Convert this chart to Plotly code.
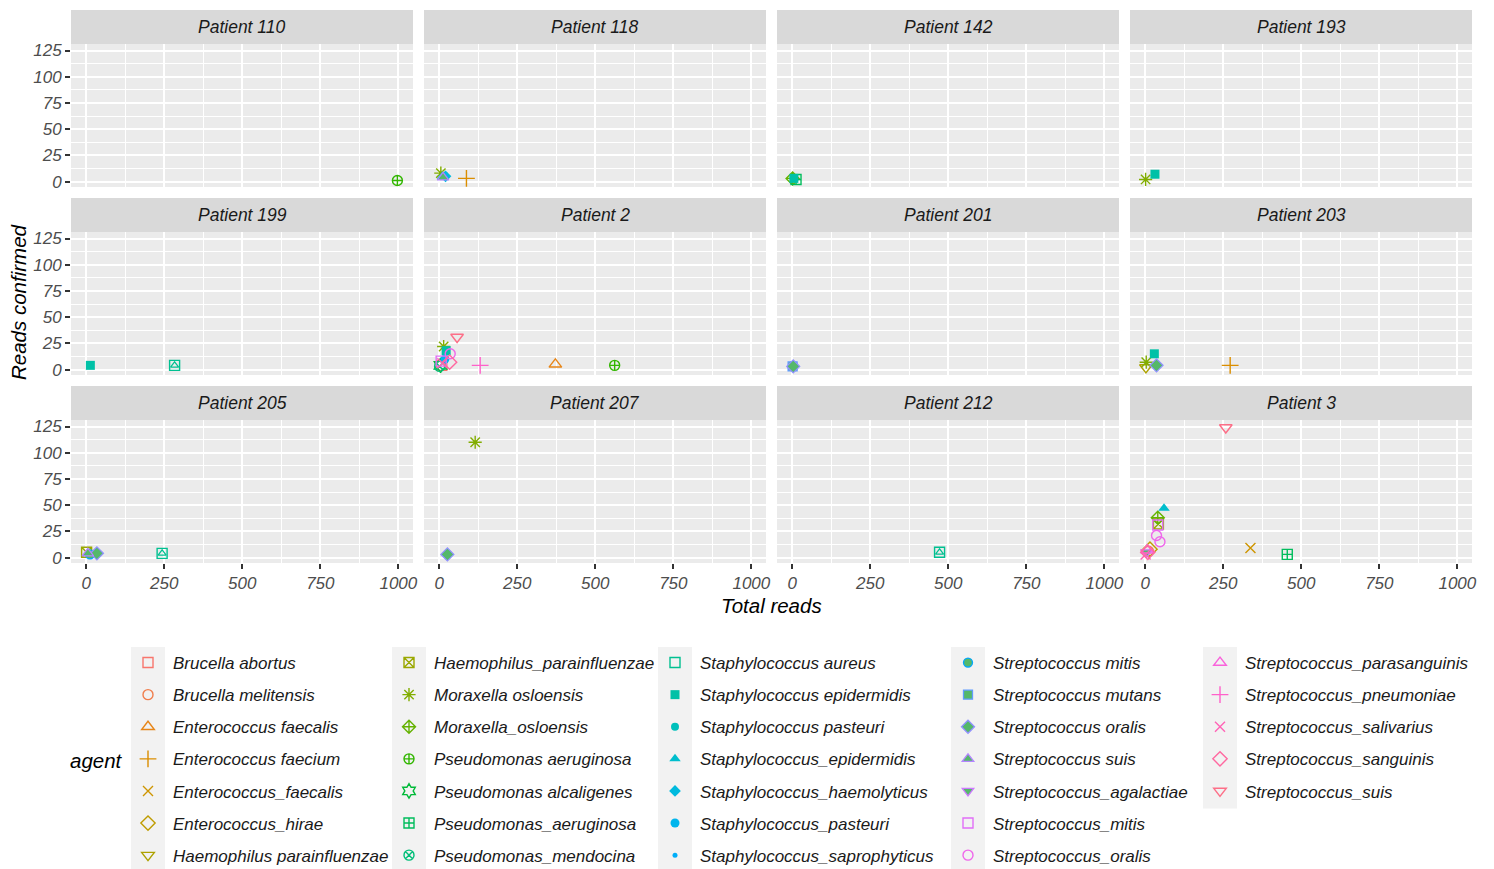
import math
import plotly.graph_objects as go

# ---------------- data ----------------
patients = ["Patient 110", "Patient 118", "Patient 142", "Patient 193",
            "Patient 199", "Patient 2", "Patient 201", "Patient 203",
            "Patient 205", "Patient 207", "Patient 212", "Patient 3"]

agents = ["Brucella abortus", "Brucella melitensis", "Enterococcus faecalis",
          "Enterococcus faecium", "Enterococcus_faecalis", "Enterococcus_hirae",
          "Haemophilus parainfluenzae", "Haemophilus_parainfluenzae",
          "Moraxella osloensis", "Moraxella_osloensis", "Pseudomonas aeruginosa",
          "Pseudomonas alcaligenes", "Pseudomonas_aeruginosa", "Pseudomonas_mendocina",
          "Staphylococcus aureus", "Staphylococcus epidermidis", "Staphylococcus pasteuri",
          "Staphylococcus_epidermidis", "Staphylococcus_haemolyticus",
          "Staphylococcus_pasteuri", "Staphylococcus_saprophyticus",
          "Streptococcus mitis", "Streptococcus mutans", "Streptococcus oralis",
          "Streptococcus suis", "Streptococcus_agalactiae", "Streptococcus_mitis",
          "Streptococcus_oralis", "Streptococcus_parasanguinis",
          "Streptococcus_pneumoniae", "Streptococcus_salivarius",
          "Streptococcus_sanguinis", "Streptococcus_suis"]

pt_patient = (["Patient 110"]
              + ["Patient 118"] * 5
              + ["Patient 142"] * 3
              + ["Patient 193"] * 2
              + ["Patient 199"] * 2
              + ["Patient 2"] * 14
              + ["Patient 201"] * 4
              + ["Patient 203"] * 5
              + ["Patient 205"] * 5
              + ["Patient 207"] * 2
              + ["Patient 212"]
              + ["Patient 3"] * 15)

pt_agent = [
    "Pseudomonas aeruginosa",
    "Moraxella osloensis", "Staphylococcus_epidermidis", "Streptococcus suis",
    "Staphylococcus_haemolyticus", "Enterococcus faecium",
    "Moraxella_osloensis", "Staphylococcus epidermidis", "Pseudomonas_aeruginosa",
    "Moraxella osloensis", "Staphylococcus epidermidis",
    "Staphylococcus epidermidis", "Staphylococcus aureus",
    "Pseudomonas_mendocina", "Pseudomonas alcaligenes", "Brucella abortus",
    "Streptococcus_mitis", "Streptococcus_salivarius", "Staphylococcus_pasteuri",
    "Moraxella osloensis", "Staphylococcus epidermidis", "Streptococcus_oralis",
    "Streptococcus_sanguinis", "Streptococcus_suis", "Streptococcus_pneumoniae",
    "Enterococcus faecalis", "Pseudomonas aeruginosa",
    "Streptococcus mutans", "Staphylococcus pasteuri", "Streptococcus oralis",
    "Staphylococcus_saprophyticus",
    "Haemophilus parainfluenzae", "Moraxella osloensis", "Staphylococcus epidermidis",
    "Streptococcus oralis", "Enterococcus faecium",
    "Haemophilus_parainfluenzae", "Streptococcus suis", "Streptococcus mitis",
    "Streptococcus oralis", "Staphylococcus aureus",
    "Moraxella osloensis", "Streptococcus oralis",
    "Staphylococcus aureus",
    "Streptococcus_salivarius", "Streptococcus_agalactiae", "Streptococcus_sanguinis",
    "Brucella melitensis", "Streptococcus_parasanguinis", "Enterococcus_hirae",
    "Streptococcus_oralis", "Streptococcus_oralis", "Streptococcus_mitis",
    "Haemophilus_parainfluenzae", "Moraxella_osloensis", "Staphylococcus_epidermidis",
    "Streptococcus_suis", "Enterococcus_faecalis", "Pseudomonas_aeruginosa"]

pt_total = [997,
            5, 10, 12, 20, 87,
            1, 5, 12,
            1, 31,
            13, 283,
            1, 4, 8, 6, 10, 18, 14, 22, 35, 33, 57, 131, 372, 562,
            1, 2, 3, 5,
            2, 3, 29, 36, 272,
            1, 5, 12, 34, 243,
            115, 26,
            472,
            1, 4, 8, 10, 6, 15, 36, 47, 40, 42, 40, 60, 258, 337, 455]

pt_confirmed = [1,
                8, 5, 4, 5, 3,
                3, 3, 2,
                2, 7,
                4, 4,
                3, 4, 4, 8, 6, 10, 22, 18, 15, 7, 31, 4, 5, 4,
                3, 4, 3, 2,
                2, 7, 15, 4, 4,
                5, 4, 3, 4, 4,
                110, 3,
                5,
                3, 5, 5, 6, 7, 8, 21, 15, 31, 32, 38, 47, 124, 9, 3]

x_ticks = [0, 250, 500, 750, 1000]
x_tick_labels = ["0", "250", "500", "750", "1000"]
y_ticks = [0, 25, 50, 75, 100, 125]
y_tick_labels = ["0", "25", "50", "75", "100", "125"]

# ---------------- style ----------------
FONT = "Liberation Sans, Arial, sans-serif"
OFF = 8                      # page body margin of the html page
W, H = 1494 - OFF, 869 - OFF
ML, MR, MT, MB = 71 - OFF, 22, 10 - OFF, 306
PW, PH = W - ML - MR, H - MT - MB  # 1401 x 553
PANEL_W, PANEL_H, STRIP_H = 342, 143, 34
COL_PITCH, ROW_PITCH = 353, 188
FILL_GREEN = "#55B86A"


def px_to_paper_x(px):      # px measured on the page
    return (px - OFF - ML) / PW


def py_to_paper_y(py):
    return (PH + MT - (py - OFF)) / PH


def hue_pal(n, c=100.0, l=65.0):
    WX, WY, WZ = 95.047, 100.0, 108.883
    un = 4 * WX / (WX + 15 * WY + 3 * WZ)
    vn = 9 * WY / (WX + 15 * WY + 3 * WZ)
    out = []
    for i in range(n):
        h = 15 + 360.0 * i / n
        hr = math.radians(h)
        U, V = c * math.cos(hr), c * math.sin(hr)
        Y = WY * (((l + 16) / 116) ** 3 if l > 7.999592 else l / 903.3)
        u = U / (13 * l) + un
        v = V / (13 * l) + vn
        X = 9 * Y * u / (4 * v)
        Z = -X / 3 - 5 * Y + 3 * Y / v
        r = (3.240479 * X - 1.537150 * Y - 0.498535 * Z) / WY
        g = (-0.969256 * X + 1.875992 * Y + 0.041556 * Z) / WY
        b = (0.055648 * X - 0.204043 * Y + 1.057311 * Z) / WY

        def gam(t):
            t = 1.055 * t ** (1 / 2.4) - 0.055 if t > 0.0031308 else 12.92 * t
            return min(max(t, 0.0), 1.0)
        out.append("#%02X%02X%02X" % tuple(int(round(gam(t) * 255)) for t in (r, g, b)))
    return out


colors = hue_pal(len(agents))

# R pch -> plotly symbol, size, kind
PCH = {0: ("square-open", 10, "open"), 1: ("circle-open", 10, "open"),
       2: ("triangle-up-open", 11, "open"), 3: ("cross-thin-open", 12, "open"),
       4: ("x-thin-open", 10, "open"), 5: ("diamond-open", 11, "open"),
       6: ("triangle-down-open", 11, "open"), 7: ("square-x-open", 10, "open"),
       8: ("asterisk-open", 11, "open"), 9: ("diamond-cross-open", 10, "open"),
       10: ("circle-cross-open", 10, "open"), 11: ("hexagram-open", 11, "open"),
       12: ("square-cross-open", 10, "open"), 13: ("circle-x-open", 10, "open"),
       14: ("square-open", 10, "open"), 15: ("square", 9, "solid"),
       16: ("circle", 8, "solid"), 17: ("triangle-up", 10, "solid"),
       18: ("diamond", 9, "solid"), 19: ("circle", 9, "solid"),
       20: ("circle", 5, "solid"), 21: ("circle", 9, "filled"),
       22: ("square", 9, "filled"), 23: ("diamond", 10, "filled"),
       24: ("triangle-up", 10, "filled"), 25: ("triangle-down", 10, "filled")}


def marker_for(ai):
    sym, size, kind = PCH[ai % 26]
    col = colors[ai]
    if kind == "open":
        return dict(symbol=sym, size=size, color=col, line=dict(color=col, width=1.4))
    if kind == "solid":
        return dict(symbol=sym, size=size, color=col, line=dict(width=0))
    return dict(symbol=sym, size=size, color=FILL_GREEN, line=dict(color=col, width=1.3))


def ax_suffix(pi):
    return "" if pi == 0 else str(pi + 1)


fig = go.Figure()

for ai, agent in enumerate(agents):
    first = True
    legend_key = "legend" if ai // 7 == 0 else "legend%d" % (ai // 7 + 1)
    for pi, patient in enumerate(patients):
        idx = [k for k in range(len(pt_agent)) if pt_agent[k] == agent and pt_patient[k] == patient]
        if not idx:
            continue
        xs = [pt_total[k] for k in idx]
        ys = [pt_confirmed[k] for k in idx]
        fig.add_trace(go.Scatter(
            x=xs, y=ys, mode="markers", name=agent, legendgroup=agent,
            showlegend=first, legend=legend_key,
            xaxis="x" + ax_suffix(pi), yaxis="y" + ax_suffix(pi),
            marker=marker_for(ai), hovertemplate=agent + "<br>%{x}, %{y}<extra></extra>"))
        if ai % 26 == 14:
            fig.add_trace(go.Scatter(
                x=xs, y=ys, mode="markers", name=agent, legendgroup=agent,
                showlegend=False, xaxis="x" + ax_suffix(pi), yaxis="y" + ax_suffix(pi),
                marker=dict(symbol="triangle-up-open", size=7, color=colors[ai],
                            line=dict(color=colors[ai], width=1.2)),
                hoverinfo="skip"))
        first = False

layout = dict(
    width=W, height=H,
    margin=dict(l=ML, r=MR, t=MT, b=MB, autoexpand=False),
    paper_bgcolor="white", plot_bgcolor="#EBEBEB",
    font=dict(family=FONT, color="#1A1A1A"),
    showlegend=True,
)

tickfont = dict(family=FONT, size=17, color="#4D4D4D", style="italic")
shapes = []
annotations = []

for pi, patient in enumerate(patients):
    r, c = divmod(pi, 4)
    x0 = c * COL_PITCH
    y_top = (STRIP_H + r * ROW_PITCH)
    xd = [x0 / PW, (x0 + PANEL_W) / PW]
    yd = [(PH - (y_top + PANEL_H)) / PH, (PH - y_top) / PH]
    s = ax_suffix(pi)
    layout["xaxis" + s] = dict(
        domain=xd, range=[-49, 1047], anchor="y" + s,
        tickmode="array", tickvals=x_ticks, ticktext=x_tick_labels,
        showticklabels=(r == 2), ticks="outside" if r == 2 else "",
        ticklen=5, tickwidth=1.6, tickcolor="#333333", tickfont=tickfont,
        showgrid=True, gridcolor="white", gridwidth=1.8,
        minor=dict(tickmode="linear", tick0=0, dtick=125, showgrid=True,
                   gridcolor="white", gridwidth=0.9, ticks=""),
        zeroline=False, showline=False, fixedrange=True)
    layout["yaxis" + s] = dict(
        domain=yd, range=[-5.2, 131.2], anchor="x" + s,
        tickmode="array", tickvals=y_ticks, ticktext=y_tick_labels,
        showticklabels=(c == 0), ticks="outside" if c == 0 else "",
        ticklen=5, tickwidth=1.6, tickcolor="#333333", tickfont=tickfont,
        showgrid=True, gridcolor="white", gridwidth=1.8,
        minor=dict(tickmode="linear", tick0=0, dtick=12.5, showgrid=True,
                   gridcolor="white", gridwidth=0.9, ticks=""),
        zeroline=False, showline=False, fixedrange=True)
    # strip
    xr = ("x" + s) + " domain"
    yr = ("y" + s) + " domain"
    shapes.append(dict(type="rect", xref=xr, yref=yr, x0=0, x1=1, y0=1,
                       y1=1 + STRIP_H / PANEL_H, fillcolor="#D9D9D9",
                       line=dict(width=0), layer="below"))
    annotations.append(dict(xref=xr, yref=yr, x=0.5, y=1 + STRIP_H / 2 / PANEL_H,
                            text=patient, showarrow=False, xanchor="center", yanchor="middle",
                            font=dict(family=FONT, size=17.5, color="#1A1A1A", style="italic")))

# axis titles & legend title
title_font = dict(family=FONT, size=20.5, color="black", style="italic")
annotations.append(dict(xref="paper", yref="paper", x=px_to_paper_x(771.5), y=py_to_paper_y(605),
                        text="Total reads", showarrow=False, xanchor="center", yanchor="middle",
                        font=title_font))
annotations.append(dict(xref="paper", yref="paper", x=px_to_paper_x(18), y=py_to_paper_y(302),
                        text="Reads confirmed", showarrow=False, textangle=-90,
                        xanchor="center", yanchor="middle", font=title_font))
annotations.append(dict(xref="paper", yref="paper", x=px_to_paper_x(96), y=py_to_paper_y(760),
                        text="agent", showarrow=False, xanchor="center", yanchor="middle",
                        font=title_font))

# legends: five columns of seven entries
key_centers = [148, 409, 675, 968, 1220]
ROW_STEP = 32.3
KEY_TOP = 647
LEGEND_TOP = 645
for k, kx in enumerate(key_centers):
    n_items = min(7, len(agents) - 7 * k)
    key = "legend" if k == 0 else "legend%d" % (k + 1)
    layout[key] = dict(
        xref="container", yref="container",
        x=(kx - 25 - OFF) / W, y=1 - (LEGEND_TOP - OFF) / H,
        xanchor="left", yanchor="top", orientation="v",
        bgcolor="rgba(0,0,0,0)", borderwidth=0,
        itemwidth=40, tracegroupgap=7, itemsizing="trace",
        font=dict(family=FONT, size=17, color="#1A1A1A", style="italic"))
    y_bot = min(KEY_TOP + n_items * ROW_STEP, 869)
    shapes.append(dict(type="rect", xref="paper", yref="paper",
                       x0=px_to_paper_x(kx - 17), x1=px_to_paper_x(kx + 17),
                       y0=py_to_paper_y(y_bot), y1=py_to_paper_y(KEY_TOP),
                       fillcolor="#F2F2F2", line=dict(width=0), layer="below"))

layout["shapes"] = shapes
layout["annotations"] = annotations
fig.update_layout(**layout)

fig.write_html("out.html")
